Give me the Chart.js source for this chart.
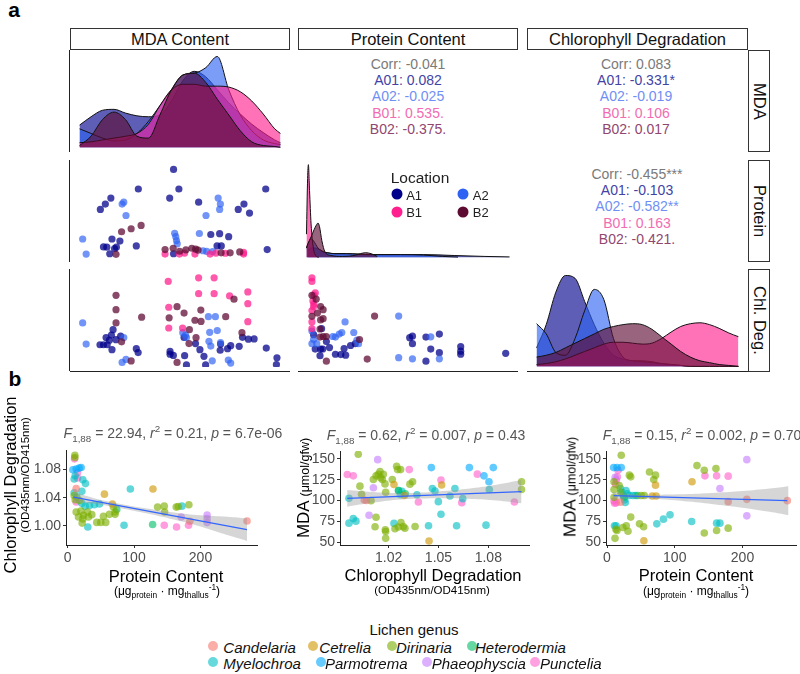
<!DOCTYPE html>
<html><head><meta charset="utf-8">
<script src="https://cdn.jsdelivr.net/npm/chart.js@4.4.1/dist/chart.umd.min.js"></script>
<style>
html,body{margin:0;padding:0;background:#fff;}
#root{position:relative;width:800px;height:674px;overflow:hidden;font-family:"Liberation Sans",Arial,sans-serif;color:#000;}
#root canvas{position:absolute;}
.t{position:absolute;white-space:nowrap;line-height:1;transform:translate(-50%,-50%);}
.tl{position:absolute;white-space:nowrap;line-height:1;transform:translate(0,-50%);}
.rot{transform:translate(-50%,-50%) rotate(-90deg);}
.strip{position:absolute;box-sizing:border-box;border:1.3px solid #333;background:#fff;display:flex;align-items:center;justify-content:center;font-size:16.5px;color:#111;}
.vstrip{writing-mode:vertical-rl;}
.ln{position:absolute;background:#222;}
.dot{position:absolute;border-radius:50%;transform:translate(-50%,-50%);}
sub,sup{font-size:70%;line-height:0;}
</style></head><body><div id="root"></div>
<script>
// ---------- categories ----------
const locations = ["A1","A2","B1","B2"];
const locColors = ["#00008B","#2E62F2","#FF1F8E","#5E0B33"];
const genera = ["Candelaria","Cetrelia","Dirinaria","Heterodermia","Myelochroa","Parmotrema","Phaeophyscia","Punctelia"];
const genusColors = ["#F8766D","#CD9600","#7CAE00","#00BE67","#00BFC4","#00A9FF","#C77CFF","#FF61CC"];

// ---------- panel a: densities (relative height) ----------
const mdaGrid = [50,56,62,68,74,80,86,92,98,104,110,116,122,128,134,140,146,152,155];
const mdaDensA1 = [0.24,0.33,0.40,0.41,0.37,0.34,0.33,0.35,0.50,0.72,0.82,0.76,0.62,0.48,0.36,0.25,0.16,0.08,0.05];
const mdaDensA2 = [0.20,0.15,0.10,0.07,0.08,0.15,0.28,0.45,0.62,0.78,0.80,0.86,0.98,0.62,0.35,0.18,0.08,0.04,0.03];
const mdaDensB1 = [0.05,0.06,0.08,0.10,0.12,0.15,0.25,0.45,0.62,0.68,0.68,0.66,0.66,0.65,0.60,0.50,0.36,0.20,0.15];
const mdaDensB2 = [0.02,0.12,0.30,0.38,0.30,0.12,0.10,0.35,0.62,0.78,0.80,0.70,0.52,0.35,0.18,0.06,0.02,0.01,0.00];

const protGridA1 = [10,12,14,17,20,23,26,30,35,45,60,75,85,95,110,130,160,200,240,272];
const protDensA1 = [0.08,0.09,0.10,0.10,0.10,0.09,0.08,0.06,0.05,0.04,0.04,0.035,0.03,0.03,0.03,0.03,0.03,0.02,0.01,0.005];
const protGridA2 = [8,10,12,14,17,20,23,26,30,35,45,60,75,85,95,110,130,160,185,205];
const protDensA2 = [0.10,0.15,0.18,0.20,0.18,0.14,0.10,0.08,0.06,0.05,0.04,0.04,0.035,0.03,0.03,0.03,0.03,0.025,0.01,0.003];
const protGridB1 = [8,9.5,10.5,12,14,17,20,24];
const protDensB1 = [0.25,0.85,1.00,0.72,0.36,0.10,0.02,0.00];
const protGridB2 = [8,10,14,18,21,23,25,28,32,40,55,70,78,85,92,100];
const protDensB2 = [0.10,0.15,0.22,0.30,0.35,0.37,0.33,0.18,0.06,0.02,0.01,0.02,0.04,0.05,0.04,0.01];

const chlGrid = [0.995,1.000,1.005,1.010,1.015,1.020,1.025,1.030,1.035,1.040,1.045,1.050,1.055,1.060,1.065,1.070,1.075,1.080,1.085,1.090,1.095,1.100];
const chlDensA1 = [0.20,0.45,0.80,0.98,0.95,0.70,0.45,0.25,0.12,0.08,0.06,0.06,0.05,0.03,0.02,0.01,0,0,0,0,0,0];
const chlDensA2 = [0.46,0.35,0.15,0.12,0.30,0.60,0.83,0.72,0.30,0.10,0.06,0.05,0.04,0.03,0.02,0.01,0,0,0,0,0,0];
const chlDensB1 = [0.02,0.03,0.05,0.08,0.12,0.16,0.20,0.24,0.26,0.26,0.25,0.24,0.25,0.30,0.37,0.43,0.46,0.47,0.45,0.41,0.36,0.32];
const chlDensB2 = [0.10,0.12,0.15,0.20,0.25,0.30,0.35,0.40,0.43,0.45,0.46,0.45,0.40,0.32,0.24,0.16,0.10,0.06,0.04,0.02,0.01,0.00];

// ---------- panel a: scatter by location [A1, A2, B1, B2] ----------
const mdaProtein = [
 [[99,266.5],[79.9,206.9],[101.9,206.9],[149,206.9],[65,179.4],[96.9,179.4],[62,161.2],[112.6,167],[137.2,161.2],[59.3,144.7],[134.1,144.7],[140.2,133.6],[119.2,68.5],[124,71],[128.9,62],[65.6,54.8],[69.9,48.4],[78.8,33.6],[61,30.8],[62.8,30],[67,25.5],[68,30],[64.4,9.9],[122.6,33.6],[124.9,33.6],[149.8,22.6],[99,9.9]],
 [[49.7,54.8],[51.6,8.9],[71.1,161.2],[72,167],[73.2,126.3],[123.2,179.4],[124.4,161.2],[124,144.7],[116.6,126.3],[99.6,72],[100.2,62],[100.6,50],[101,40],[113,71.6],[115,19],[117,17],[120.2,16.7]],
 [[94.4,9],[102.2,9],[110.6,9],[118.8,9],[127.1,11.5],[137,14],[137,9],[105,12],[122,12]],
 [[70.8,76.9],[76,86],[81.4,96.1],[67.8,8.1],[94.4,22.6],[98.8,26.7],[102.3,17.5],[105.7,22],[108.9,26.7],[111,24],[112.3,21],[124.8,12.7],[129.7,12.7],[134.9,15.4]]
];
const mdaChl = [
 [[66.2,1.0357],[65.3,1.029],[62.4,1.026],[70.3,1.0279],[59.1,1.0172],[61,1.0172],[63,1.0172],[64.2,1.0227],[67.8,1.0234],[65.6,1.0112],[78.8,1.0124],[79.8,1.0076],[97.1,1.009],[97.1,1.0057],[98.9,1.0042],[105,1.0038],[113.3,1.0112],[115.5,1.003],[124.5,1.018],[124.3,1.0105],[128.3,1.0124],[130,1.0161],[134.6,1.0153],[136.4,1.0263],[139.6,1.0241],[142.7,1.0243],[149.3,1.0131],[155.1,1.0013],[110.9,1.0187],[104.7,1.0262],[106,0.9925],[116.4,0.9925],[154.8,0.993]],
 [[49.7,1.0439],[51.6,1.0181],[71.1,0.9956],[73.2,0.9993],[72,1.026],[117.9,1.0516],[121.7,1.0516],[118.6,1.0324],[122.7,1.0346],[104,1.032],[105.5,1.029],[106,1.026],[118.2,1.0215],[119.2,1.0156],[124.5,1.0197],[128.7,0.9985],[130,0.9948],[120,0.9975]],
 [[96.1,1.0947],[112.6,1.0991],[121,1.0991],[112.6,1.0797],[121,1.0797],[139.3,1.0819],[139.3,1.0675],[129.4,1.077],[96.4,1.0631],[96.4,1.0377],[103.9,1.0377],[139.3,1.0454]],
 [[67.8,1.0777],[67.8,1.0601],[67.8,1.0439],[81.7,1.0509],[100.9,1.0638],[104.7,1.056],[113.8,1.0597],[110.6,1.0472],[113.9,1.0458],[96.6,1.0501],[127.3,1.0516],[131.8,1.073],[107.6,1.0357],[107.4,1.0186],[111.2,1.0259],[136.1,1.032],[70.8,1.0208],[76,0.9974],[100.9,0.9956]]
];
const proteinChl = [
 [[23.4,1.0369],[12.6,1.0296],[14.8,1.0119],[22.1,1.0119],[21.3,1.0038],[29.9,1.0211],[34.1,1.0138],[42.1,1.0056],[49.4,1.0052],[55.9,1.0045],[53.8,1.0126],[62.5,1.0163],[68.9,1.0185],[142.3,1.0259],[146,1.0277],[146,1.0185],[164.2,1.0266],[170.7,1.0119],[182.3,1.0303],[182.3,1.0075],[164.2,0.9971],[211.1,1.0149],[211.1,1.0093],[211.1,1.0056],[271.8,1.0067],[25,1.012]],
 [[10.4,1.034],[12.6,1.0236],[10.4,1.0185],[16.9,1.0185],[38.6,1.0273],[42.1,1.0266],[47.3,1.0303],[50.7,1.0322],[55.1,1.0451],[66.8,1.0322],[71.1,1.0229],[73.3,1.0185],[127.4,1.0523],[127.4,1.0014],[146,1.0],[170.7,1.0269],[182.3,1.0]],
 [[10.4,1.0991],[10.4,1.0947],[13.1,1.078],[14.9,1.0806],[11.7,1.0708],[13.1,1.067],[10.4,1.0591],[10.4,1.0451],[10.4,1.0369],[12.6,1.0638]],
 [[10.4,1.0777],[16.1,1.073],[22.1,1.064],[25.5,1.0601],[17.8,1.056],[22.1,1.0476],[25.5,1.0491],[10.4,1.052],[21.3,1.0365],[25.5,1.0273],[29.9,1.0273],[21.3,1.0266],[29.9,0.9971],[74.6,1.0236],[94.9,1.0523],[85,0.9997]]
];

// ---------- panel a: correlation labels ----------
const corrMdaProtein = ["-0.041","0.082","-0.025","0.535.","-0.375."];
const corrMdaChl = ["0.083","-0.331*","-0.019","0.106","0.017"];
const corrProteinChl = ["-0.455***","-0.103","-0.582**","0.163","-0.421."];
const corrLabels = ["Corr: ","A01: ","A02: ","B01: ","B02: "];
const corrColors = ["#7a7a7a","#4343a6","#6f8ff5","#f26cb3","#914670"];

// ---------- panel b: points by genus ----------
const proteinChlGenus = [
 [[13,1.053],[184,1.0066],[270,1.007]],
 [[55.5,1.045],[128.5,1.0524],[67.5,1.031]],
 [[11,1.100],[11,1.097],[10,1.043],[11.5,1.037],[18,1.036],[13,1.0197],[20,1.021],[16.5,1.0126],[24,1.015],[30,1.0197],[31.5,1.0126],[36.5,1.016],[22,1.004],[23,1.010],[44,1.005],[50,1.005],[57.5,1.005],[69,1.0267],[71.5,1.0197],[63,1.0164],[54,1.0136],[71.5,1.0164],[135.5,1.0267],[145.5,1.028],[146,1.0197],[163.5,1.0267],[166.5,1.0276],[182.5,1.030]],
 [[128,1.002],[14,1.041],[74,1.0234]],
 [[11.5,1.071],[10,1.0665],[23,1.0655],[27,1.060],[21.5,1.049],[10,1.047],[21.5,1.032],[26.5,1.028],[33,1.029],[40.5,1.030],[48,1.031],[30.5,0.9986],[85,1.001],[94.5,1.0524],[172,1.028]],
 [[8,1.0796],[13,1.0805],[17.5,1.0819],[20.5,1.0828]],
 [[171,1.0126],[210,1.0154],[210,1.0103],[210,1.0047]],
 [[10.5,1.095],[15,1.0753],[15,1.068],[13,1.034],[145.5,1.001],[182,1.001],[164,0.9986]]
];
const chlMdaGenus = [
 [[1.0053,100.6],[1.0066,100.0]],
 [[1.0232,119.3],[1.0443,51.2],[1.0519,118.7],[1.0295,106]],
 [[1.0017,155.6],[1.0027,117.3],[1.0037,107.4],[1.0094,99.8],[1.0108,125.3],[1.0124,129.7],[1.0138,131.5],[1.0148,134.8],[1.0152,127.5],[1.0162,125.3],[1.0168,131.5],[1.0178,120],[1.0182,110],[1.0124,79.9],[1.0118,68.3],[1.018,64.7],[1.0182,62.7],[1.0182,54.4],[1.0222,125.3],[1.0248,141.2],[1.0254,137.2],[1.0272,137.2],[1.0238,66],[1.0258,68],[1.0274,73.5],[1.0288,68.5],[1.0298,66.5],[1.0328,119.7],[1.0344,122.5],[1.0359,68.7],[1.1,122.5],[1.1,113.3]],
 [[1.0259,112],[1.030,108]],
 [[0.9961,102.6],[0.9961,72.7],[0.9987,78.3],[1.0003,75.1],[1.0232,72.4],[1.026,112],[1.028,111],[1.027,107],[1.037,107],[1.044,69.5],[1.0499,98.6],[1.0515,83.5],[1.0599,114.5],[1.0609,69.5],[1.0646,102.2],[1.0786,70.3],[1.0806,113.3],[1.0463,114.5],[1.0479,111.4],[1.0569,105.4]],
 [[1.0457,139.6],[1.0686,139.6],[1.0774,129.7],[1.0804,122.5],[1.083,139.6]],
 [[1.0082,82.3],[1.0108,115.3],[1.0134,149.2]],
 [[0.9951,131.3],[0.9987,129.7],[1.0324,137.2],[1.0379,98.2],[1.0515,124.6],[1.064,97.4],[1.0734,131.7],[1.0957,98.2]]
];
const proteinMdaGenus = [
 [[178.9,98.6],[206.4,101.4],[266.2,99.8],[20,98]],
 [[71.6,118.5],[66.7,105.4],[72.5,105.4],[54.4,51.6],[125.5,122.5]],
 [[21,154.4],[10.3,122.5],[10.3,113.3],[10.3,103.8],[11.8,54.4],[13.2,65.4],[14.7,63.9],[23.5,67.5],[28.4,69.5],[31,63],[33,130.5],[35,128.5],[35,80],[62.7,134.4],[69,125.3],[71.6,130.5],[50.5,106],[55,106],[48,71.9],[54,68.3],[132.8,142],[143.6,136.5],[143.6,60.8],[160.8,138.4],[161.8,63.9],[178.9,66.7],[18,118],[20,110]],
 [[25,104],[45,106]],
 [[11,69.5],[13.4,69.5],[20,114],[22,110],[24,106],[26,101],[27,97.5],[28,112],[30,108],[33,106],[38,106],[42,106],[73.5,71.9],[83.3,77.5],[93,82.7],[125,74.7],[161.8,72.7],[166.7,72.7]],
 [[9.8,139.6],[14.7,139.6],[21,139.6]],
 [[166.7,114.5],[206.4,149.2],[206.4,81.5],[12,128]],
 [[16.2,136.5],[15.2,128.5],[13.7,124.5],[12.7,119.7],[10.3,99.4],[13.7,97.4],[11.3,96.6],[144.6,129.7],[161.8,129.7],[178.9,129.3]]
];

// ---------- panel b: fitted lines and confidence bands ----------
const fit1Line = [[9,1.0407],[270,0.9948]];
const band1X = [8,40,80,120,160,200,240,270];
const band1Hi = [1.0484,1.0393,1.0312,1.0247,1.0191,1.0151,1.0131,1.0108];
const band1Lo = [1.0334,1.0313,1.0252,1.0177,1.0091,0.9991,0.9871,0.9788];
const fit2Line = [[0.9951,102.6],[1.1,110.6]];
const band2X = [0.995,1.01,1.025,1.04,1.055,1.07,1.085,1.1];
const band2Hi = [112.6,110.2,108.9,109.5,111.7,114.8,119.0,124.6];
const band2Lo = [92.6,97.2,100.9,102.5,102.7,101.8,100.0,96.6];
const fit3Line = [[9.8,105.8],[266,99.8]];
const band3X = [8,40,80,120,160,200,240,268];
const band3Hi = [110.3,107.6,107.0,107.7,109.3,111.4,114.4,117.3];
const band3Lo = [101.3,102.6,101.4,98.7,95.3,91.4,86.4,82.3];

// ---------- tick labels ----------
const proteinTicks = [0,100,200];
const chlTicksB1 = [1.00,1.04,1.08];
const chlTicksB2 = [1.02,1.05,1.08];
const mdaTicks = [50,75,100,125,150];

// ================= drawing =================
Chart.defaults.font.family = '"Liberation Sans", Arial, sans-serif';
const root = document.getElementById('root');
function el(cls, css, html){ const e=document.createElement('div'); if(cls) e.className=cls; Object.assign(e.style, css||{}); if(html!==undefined) e.innerHTML=html; root.appendChild(e); return e; }
function txt(x,y,html,css,cls){ return el(cls||'t', Object.assign({left:x+'px',top:y+'px'},css||{}), html); }
function rgba(hex,a){ const n=parseInt(hex.slice(1),16); return `rgba(${n>>16&255},${n>>8&255},${n&255},${a})`; }
function canvasAt(l,t,w,h){ const c=document.createElement('canvas'); c.width=w; c.height=h; Object.assign(c.style,{left:l+'px',top:t+'px',width:w+'px',height:h+'px'}); root.appendChild(c); return c; }
const pts = arr => arr.map(p=>({x:p[0],y:p[1]}));
const curve = (xs,ys) => xs.map((x,i)=>({x, y:ys[i]}));

// panel a layout
const colX = [[70,290],[298,518],[527,748]];
const rowY = [[50,152],[160,262],[269,371]];
const mdaRange = [45,160], protRange = [-3,283], chlRange = [0.990,1.105], densRange = [-0.05,1.05];

function cell(ci, ri, xr, yr, datasets){
  const c = canvasAt(colX[ci][0], rowY[ri][0], colX[ci][1]-colX[ci][0], rowY[ri][1]-rowY[ri][0]);
  new Chart(c, {type:'scatter', data:{datasets}, options:{responsive:false, animation:false, events:[],
    layout:{padding:0}, plugins:{legend:{display:false}, tooltip:{enabled:false}},
    scales:{x:{type:'linear',display:false,min:xr[0],max:xr[1]}, y:{type:'linear',display:false,min:yr[0],max:yr[1]}}}});
}
function densitySets(grids, vals){
  return vals.map((v,i)=>({type:'line', data:curve(grids[i],v), showLine:true, fill:'origin',
    backgroundColor:rgba(locColors[i],0.63), borderColor:'#111', borderWidth:1, pointRadius:0,
    cubicInterpolationMode:'monotone', order:3-i}));
}
function scatterSets(groups){
  return groups.map((g,i)=>({data:pts(g), backgroundColor:rgba(locColors[i], i===1?0.68:0.74), borderWidth:0, pointRadius:3.6, order:3-i}));
}

cell(0,0,mdaRange,densRange,densitySets([mdaGrid,mdaGrid,mdaGrid,mdaGrid],[mdaDensA1,mdaDensA2,mdaDensB1,mdaDensB2]));
cell(1,1,protRange,densRange,densitySets([protGridA1,protGridA2,protGridB1,protGridB2],[protDensA1,protDensA2,protDensB1,protDensB2]));
cell(2,2,chlRange,densRange,densitySets([chlGrid,chlGrid,chlGrid,chlGrid],[chlDensA1,chlDensA2,chlDensB1,chlDensB2]));
cell(0,1,mdaRange,protRange,scatterSets(mdaProtein));
cell(0,2,mdaRange,chlRange,scatterSets(mdaChl));
cell(1,2,protRange,chlRange,scatterSets(proteinChl));

// panel a axis lines
rowY.forEach(r=>el('ln',{left:'69px',top:r[0]+'px',width:'1px',height:(r[1]-r[0])+'px'}));
colX.forEach(c=>el('ln',{left:c[0]+'px',top:'371px',width:(c[1]-c[0])+'px',height:'1px'}));

// strips
el('strip',{left:'70px',top:'28px',width:'220px',height:'22px'},'MDA Content');
el('strip',{left:'298px',top:'28px',width:'220px',height:'22px'},'Protein Content');
el('strip',{left:'527px',top:'28px',width:'221px',height:'22px'},'Chlorophyll Degradation');
el('strip vstrip',{left:'748px',top:'50px',width:'22px',height:'102px'},'MDA');
el('strip vstrip',{left:'748px',top:'160px',width:'22px',height:'102px'},'Protein');
el('strip vstrip',{left:'748px',top:'269px',width:'22px',height:'103px'},'Chl. Deg.');

// correlation text blocks
function corrBlock(cx, y0, vals){
  vals.forEach((v,i)=>txt(cx, y0+i*16.2, corrLabels[i]+v, {fontSize:'14px', color:corrColors[i]}));
}
corrBlock(408, 64, corrMdaProtein);
corrBlock(636, 64, corrMdaChl);
corrBlock(637, 174, corrProteinChl);

// location legend
txt(420,178,'Location',{fontSize:'15.5px',color:'#222'});
const locPos = [[396.7,194],[463.3,194],[396.7,211.7],[463.3,211.7]];
locations.forEach((l,i)=>{
  el('dot',{left:locPos[i][0]+'px',top:locPos[i][1]+'px',width:'11px',height:'11px',background:locColors[i]});
  txt(locPos[i][0]+9.5, locPos[i][1]+0.5, l, {fontSize:'13px',color:'#222'}, 'tl');
});

// panel labels
txt(14,9,'a',{fontSize:'21px',fontWeight:'bold'});
txt(15,378,'b',{fontSize:'21px',fontWeight:'bold'});

// panel b charts
function plotB(o){
  const c = canvasAt(o.left, o.top, o.w, o.h);
  const ds = [];
  ds.push({type:'line', data:pts(o.line), borderColor:'#3366FF', borderWidth:1.3, pointRadius:0, fill:false, showLine:true, order:0});
  ds.push({type:'line', data:curve(o.bandX,o.bandLo), borderColor:'rgba(0,0,0,0)', borderWidth:0, pointRadius:0, fill:false, showLine:true, tension:0.4, order:1});
  ds.push({type:'line', data:curve(o.bandX,o.bandHi), borderColor:'rgba(0,0,0,0)', borderWidth:0, pointRadius:0, fill:'-1', backgroundColor:'rgba(153,153,153,0.4)', showLine:true, tension:0.4, order:1});
  o.points.forEach((g,i)=>ds.push({data:pts(g), backgroundColor:rgba(genusColors[i],0.62), borderWidth:0, pointRadius:3.8, order:2}));
  const axis = (min,max,ticks,fmt,fit)=>({type:'linear', min, max,
    afterBuildTicks: s=>{ s.ticks = ticks.map(v=>({value:v})); },
    afterFit: fit,
    ticks:{color:'#4d4d4d', font:{size:14}, padding:2, autoSkip:false, maxRotation:0, callback:v=>fmt(v)},
    grid:{display:true, drawOnChartArea:false, drawTicks:true, tickLength:3, color:'#333'},
    border:{display:true, color:'#222', width:1}});
  new Chart(c, {type:'scatter', data:{datasets:ds}, options:{responsive:false, animation:false, events:[],
    layout:{padding:{top:o.padTop, right:o.padRight, left:0, bottom:0}},
    plugins:{legend:{display:false}, tooltip:{enabled:false}},
    scales:{
      x: axis(o.xr[0],o.xr[1],o.xTicks,o.xFmt,s=>{s.height=o.xh;}),
      y: axis(o.yr[0],o.yr[1],o.yTicks,o.yFmt,s=>{s.width=o.yw;})
    }}});
}
const f0 = v=>String(v), f2 = v=>Number(v).toFixed(2);
plotB({left:0, top:440, w:262, h:132, yw:66, xh:27, padTop:10, padRight:5,
  xr:[-2.3,285], yr:[0.973,1.107], xTicks:proteinTicks, yTicks:chlTicksB1, xFmt:f0, yFmt:f2,
  points:proteinChlGenus, line:fit1Line, bandX:band1X, bandHi:band1Hi, bandLo:band1Lo});
plotB({left:290, top:440, w:244, h:132, yw:50, xh:27, padTop:11, padRight:5,
  xr:[0.9907,1.1045], yr:[46.4,159.6], xTicks:chlTicksB2, yTicks:mdaTicks, xFmt:f2, yFmt:f0,
  points:chlMdaGenus, line:fit2Line, bandX:band2X, bandHi:band2Hi, bandLo:band2Lo});
plotB({left:560, top:440, w:240, h:132, yw:46, xh:27, padTop:11, padRight:3,
  xr:[-1.5,279], yr:[46.4,159.6], xTicks:proteinTicks, yTicks:mdaTicks, xFmt:f0, yFmt:f0,
  points:proteinMdaGenus, line:fit3Line, bandX:band3X, bandHi:band3Hi, bandLo:band3Lo});

// panel b titles
const stat = (f,r,p)=>`<i>F</i><sub>1,88</sub> = ${f}, <i>r</i><sup>2</sup> = ${r}, <i>p</i> = ${p}`;
txt(173,433,stat('22.94','0.21','6.7e-06'),{fontSize:'14px',color:'#555'});
txt(426,435,stat('0.62','0.007','0.43'),{fontSize:'14px',color:'#555'});
txt(702,435,stat('0.15','0.002','0.70'),{fontSize:'14px',color:'#555'});

// axis titles
const protUnit = '(μg<sub>protein</sub> · mg<sub>thallus</sub><sup>-1</sup>)';
txt(166,576,'Protein Content',{fontSize:'16.5px'});
txt(167,591,protUnit,{fontSize:'12px'});
txt(433,575,'Chlorophyll Degradation',{fontSize:'16.5px'});
txt(432,591,'(OD435nm/OD415nm)',{fontSize:'11.5px'});
txt(696,575,'Protein Content',{fontSize:'16.5px'});
txt(696,591,protUnit,{fontSize:'12px'});
txt(10,485,'Chlorophyll Degradation',{fontSize:'16.5px'},'t rot');
txt(26,475,'(OD435nm/OD415nm)',{fontSize:'11.5px'},'t rot');
const mdaTitle = 'MDA <span style="font-size:12.5px">(μmol/gfw)</span>';
txt(303,488,mdaTitle,{fontSize:'17px'},'t rot');
txt(570,487,mdaTitle,{fontSize:'17px'},'t rot');

// genus legend
txt(414,629,'Lichen genus',{fontSize:'15px',color:'#111'});
const genusPos = [[213.3,646,223.3],[313.3,646,319.3],[391.7,646,396],[471.7,646,475],[213.3,662,223.3],[321,662,325],[426.7,662,431.7],[535,662,540]];
genera.forEach((g,i)=>{
  const p = genusPos[i];
  el('dot',{left:p[0]+'px',top:p[1]+'px',width:'10px',height:'10px',background:rgba(genusColors[i],0.6)});
  txt(p[2],p[1]+0.5,g,{fontSize:'15px',fontStyle:'italic',color:'#111'},'tl');
});
</script></body></html>
